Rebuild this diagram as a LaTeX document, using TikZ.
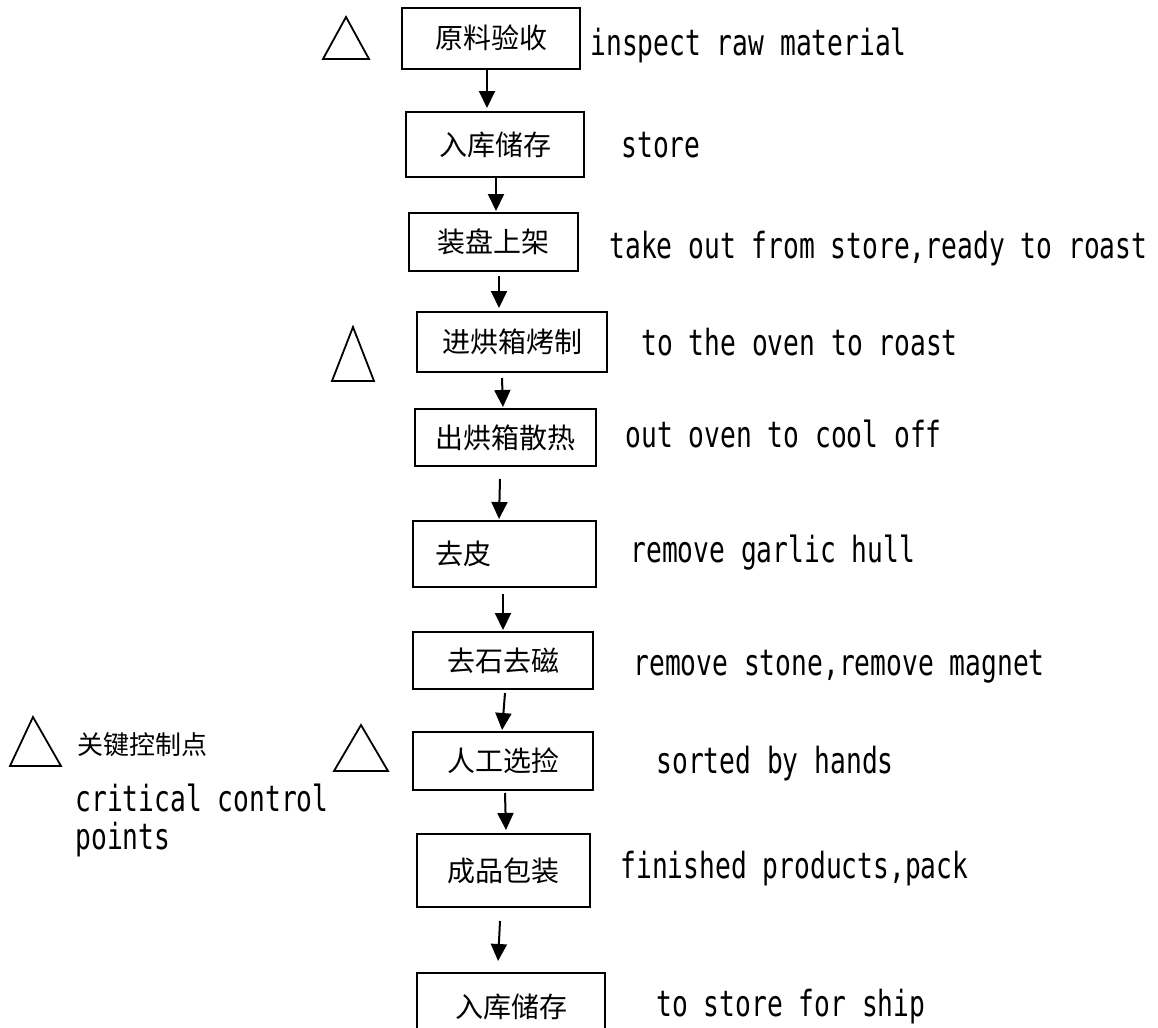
\documentclass[tikz,border=0pt]{standalone}
\usepackage{fontspec}
\usepackage{tikz}
\usetikzlibrary{arrows.meta}
\newfontfamily\cjkfont{Noto Sans CJK SC}
\newfontfamily\latfont[FakeStretch=0.73]{DejaVu Sans Mono}

\tikzset{
  stepbox/.style={draw, line width=1pt, inner sep=0pt, font=\cjkfont\fontsize{14}{16}\selectfont},
  note/.style={anchor=base west, inner sep=0pt, font=\latfont\fontsize{18}{19}\selectfont},
  flow/.style={-{Triangle[length=8.5pt,width=8pt]}, line width=1pt, shorten >=0.5pt},
  ccp/.style={line width=0.9pt}
}

\begin{document}
\begin{tikzpicture}[x=0.5pt,y=-0.5pt]
\clip (0,0) rectangle (1158,1028);

% process steps
\node[stepbox, minimum width=89pt, minimum height=30.5pt] (s1) at (491,38) {原料验收};
\node[stepbox, minimum width=89pt, minimum height=32.5pt] (s2) at (495,144.5) {入库储存};
\node[stepbox, minimum width=84.5pt, minimum height=29pt] (s3) at (493.5,242) {装盘上架};
\node[stepbox, minimum width=95pt, minimum height=30pt] (s4) at (512,342) {进烘箱烤制};
\node[stepbox, minimum width=90.5pt, minimum height=28.5pt] (s5) at (505.5,437.5) {出烘箱散热};
\node[stepbox, minimum height=33pt, inner xsep=11pt, text width=69.5pt, align=left] (s6) at (504.5,554) {去皮};
\node[stepbox, minimum width=90pt, minimum height=28.5pt] (s7) at (503,660.5) {去石去磁};
\node[stepbox, minimum width=90pt, minimum height=29pt] (s8) at (503,761) {人工选捡};
\node[stepbox, minimum width=86.5pt, minimum height=36.5pt] (s9) at (503.5,870.5) {成品包装};
\node[stepbox, minimum width=94pt, minimum height=33.5pt] (s10) at (511,1006.5) {入库储存};

% arrows
\draw[flow] ([xshift=-2pt]s1.south) -- ([xshift=-4pt,yshift=1pt]s2.north);
\draw[flow] ([xshift=0.5pt]s2.south) -- ([xshift=1.25pt]s3.north);
\draw[flow] ([xshift=2.75pt,yshift=-2pt]s3.south) -- ([xshift=-6.5pt,yshift=1pt]s4.north);
\draw[flow] ([xshift=-5pt,yshift=-2.5pt]s4.south) -- ([xshift=-1.25pt]s5.north);
\draw[flow] ([xshift=-2.75pt,yshift=-6pt]s5.south) -- ([xshift=-2.75pt]s6.north);
\draw[flow] ([xshift=-0.75pt,yshift=-3pt]s6.south) -- (s7.north);
\draw[flow] ([xshift=1pt,yshift=-1.5pt]s7.south) -- ([xshift=-0.5pt]s8.north);
\draw[flow] ([xshift=1pt,yshift=-1pt]s8.south) -- ([xshift=1.25pt,yshift=1pt]s9.north);
\draw[flow] ([xshift=-1.75pt,yshift=-6.5pt]s9.south) -- ([xshift=-6.5pt,yshift=5pt]s10.north);

% english notes
\node[note] (n1) at (590,55) {inspect raw material};
\node[note] (n2) at (621,157) {store};
\node[note] (n3) at (609,258) {take out from store,ready to roast};
\node[note] (n4) at (641,355) {to the oven to roast};
\node[note] (n5) at (625,447) {out oven to cool off};
\node[note] (n6) at (630,562) {remove garlic hull};
\node[note] (n7) at (633,675) {remove stone,remove magnet};
\node[note] (n8) at (656,773) {sorted by hands};
\node[note] (n9) at (620,878) {finished products,pack};
\node[note] (n10) at (656,1016) {to store for ship};

% critical control points
\draw[ccp] (323,59) -- (346,17) -- (369,59) -- cycle;
\draw[ccp] (332,381) -- (353,327) -- (374,381) -- cycle;
\draw[ccp] (334,771) -- (361,725) -- (388,771) -- cycle;

% legend
\draw[ccp] (10,766) -- (33,717) -- (61,766) -- cycle;
\node[anchor=west, inner sep=0pt, font=\cjkfont\fontsize{13}{16}\selectfont] (key) at (77,745) {关键控制点};
\node[note, anchor=north west, align=left] (keyen) at (75,784) {critical control\\points};

\end{tikzpicture}
\end{document}
